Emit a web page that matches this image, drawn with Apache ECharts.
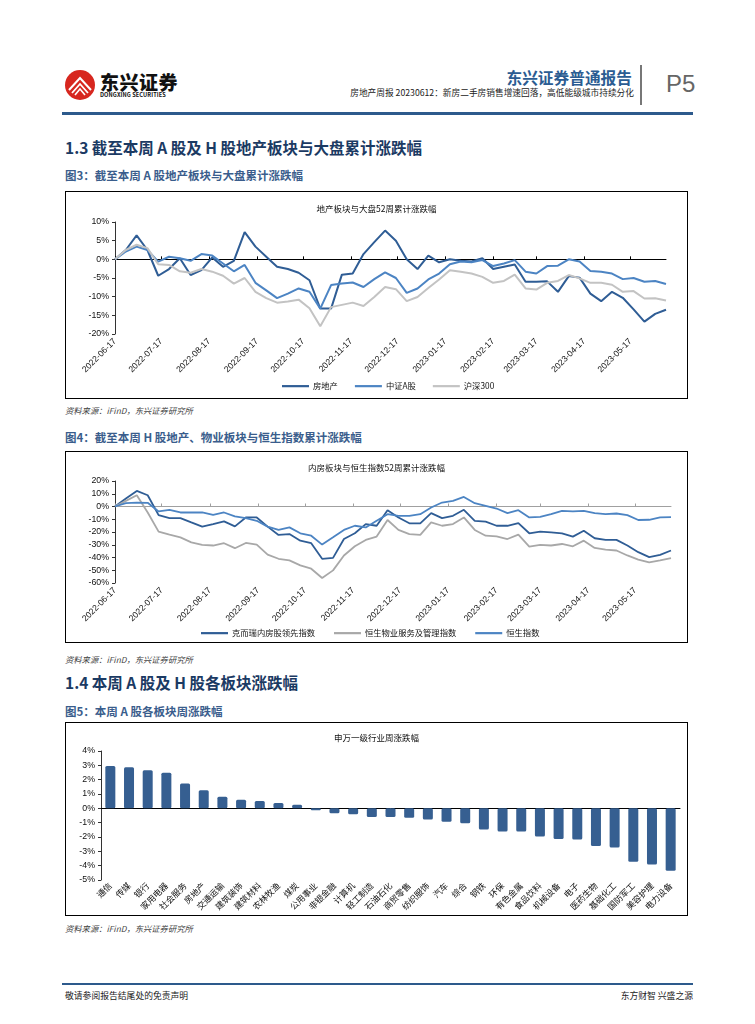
<!DOCTYPE html>
<html><head><meta charset="utf-8">
<script src="https://cdn.jsdelivr.net/npm/echarts@6/dist/echarts.min.js"></script>
<style>
html,body{margin:0;padding:0;background:#fff}
body{width:755px;height:1024px;position:relative;overflow:hidden;font-family:"Noto Sans CJK SC","Noto Sans",sans-serif}
.t{position:absolute;white-space:nowrap;line-height:1}
.box{position:absolute;border:1px solid #000;box-sizing:border-box}
.src{font-size:8.3px;color:#444;font-style:italic}
.h1{font-size:15.5px;font-weight:bold;color:#1b3a63}
.cap{font-size:11.5px;font-weight:bold;color:#3a5d8c}
</style></head><body>

<!-- header -->
<svg style="position:absolute;left:63px;top:68px" width="36" height="34" viewBox="0 0 36 34">
  <circle cx="17" cy="17" r="15" fill="#d7271f"/>
  <path d="M6 22 L17 10 L28 22" stroke="#fff" stroke-width="2" fill="none"/>
  <path d="M9 25 L17 16 L25 25" stroke="#fff" stroke-width="1.8" fill="none"/>
  <path d="M12 27 L17 21 L22 27" stroke="#fff" stroke-width="1.6" fill="none"/>
</svg>
<div class="t" style="left:100px;top:72px;font-size:19px;font-weight:900;color:#111;letter-spacing:0.5px">东兴证券</div>
<div class="t" style="left:100px;top:93px;font-size:5.6px;font-weight:bold;color:#111;letter-spacing:0.1px">DONGXING SECURITIES</div>
<div class="t" style="right:123px;top:70px;font-size:15.7px;font-weight:bold;color:#2b5c92">东兴证券普通报告</div>
<div class="t" style="right:121px;top:89px;font-size:8.7px;color:#222">房地产周报 20230612：新房二手房销售增速回落，高低能级城市持续分化</div>
<div style="position:absolute;left:640px;top:65px;width:1.5px;height:40px;background:#777"></div>
<div class="t" style="left:666px;top:72px;font-size:24px;color:#666;font-family:'Liberation Sans',Arial,sans-serif">P5</div>
<div style="position:absolute;left:62px;top:112px;width:631px;height:3px;background:#2d5a8c"></div>

<div class="t h1" style="left:65px;top:140px">1.3 截至本周 A 股及 H 股地产板块与大盘累计涨跌幅</div>
<div class="t cap" style="left:65px;top:170px">图3：截至本周 A 股地产板块与大盘累计涨跌幅</div>
<div class="box" id="c1" style="left:65px;top:191px;width:623px;height:208px"></div>
<div class="t src" style="left:65px;top:406px">资料来源：iFinD，东兴证券研究所</div>

<div class="t cap" style="left:65px;top:432px">图4：截至本周 H 股地产、物业板块与恒生指数累计涨跌幅</div>
<div class="box" id="c2" style="left:65px;top:451px;width:623px;height:192px"></div>
<div class="t src" style="left:65px;top:655px">资料来源：iFinD，东兴证券研究所</div>

<div class="t h1" style="left:65px;top:675px">1.4 本周 A 股及 H 股各板块涨跌幅</div>
<div class="t cap" style="left:65px;top:706px">图5：本周 A 股各板块周涨跌幅</div>
<div class="box" id="c3" style="left:65px;top:722px;width:623px;height:194px"></div>
<div class="t src" style="left:65px;top:924px">资料来源：iFinD，东兴证券研究所</div>

<div style="position:absolute;left:62px;top:983px;width:631px;height:2px;background:#2d5a8c"></div>
<div class="t" style="left:65px;top:992px;font-size:8.8px;color:#222">敬请参阅报告结尾处的免责声明</div>
<div class="t" style="right:62px;top:992px;font-size:8.8px;color:#222">东方财智 兴盛之源</div>

<script>
// ---------- data ----------
const weekDates = ['2022-06-17','2022-06-24','2022-07-01','2022-07-08','2022-07-15','2022-07-22','2022-07-29',
 '2022-08-05','2022-08-12','2022-08-19','2022-08-26','2022-09-02','2022-09-09','2022-09-16','2022-09-23','2022-09-30',
 '2022-10-07','2022-10-14','2022-10-21','2022-10-28','2022-11-04','2022-11-11','2022-11-18','2022-11-25',
 '2022-12-02','2022-12-09','2022-12-16','2022-12-23','2022-12-30','2023-01-06','2023-01-13','2023-01-20','2023-01-27',
 '2023-02-03','2023-02-10','2023-02-17','2023-02-24','2023-03-03','2023-03-10','2023-03-17','2023-03-24','2023-03-31',
 '2023-04-07','2023-04-14','2023-04-21','2023-04-28','2023-05-05','2023-05-12','2023-05-19','2023-05-26','2023-06-02','2023-06-09'];
const tickDates = ['2022-06-17','2022-07-17','2022-08-17','2022-09-17','2022-10-17','2022-11-17','2022-12-17',
 '2023-01-17','2023-02-17','2023-03-17','2023-04-17','2023-05-17'];

const c1Title = '地产板块与大盘52周累计涨跌幅';
const c1Names = ['房地产','中证A股','沪深300'];
const c1Realty = [0,2.5,6.4,2.5,-4.4,-2.6,0.3,-4.2,-2.9,0.5,-2.0,-0.4,7.3,3.4,0.7,-2.0,-2.6,-3.6,-5.6,-13.2,-13.2,-4.1,-3.8,1.4,4.6,7.7,
 5.0,0,-2.6,1.0,-0.8,0,-0.4,-0.6,0.3,-2.6,-2.0,-1.4,-6.0,-6.0,-5.9,-8.7,-4.5,-4.9,-9.2,-11.2,-8.7,-10.3,-13.4,-16.7,-14.6,-13.5];
const c1CSIA = [0,2.1,3.4,2.5,-0.6,0.7,0.3,-0.4,1.4,1.0,-1.1,-3.2,-1.5,-6.3,-8.3,-10.4,-9.2,-7.8,-8.7,-13.2,-6.9,-6.5,-6.2,-7.4,-5.3,-3.5,
 -5.0,-9.0,-7.8,-5.4,-3.8,-1.3,-0.6,-0.8,-0.2,-1.8,-1.1,-0.2,-3.3,-3.8,-1.8,-1.7,0,-0.6,-3.1,-3.3,-3.8,-5.3,-5.0,-6.0,-5.8,-6.6];
const c1HS300 = [0,2.5,3.9,3.0,-1.3,-1.5,-3.2,-3.6,-2.6,-3.3,-4.4,-6.5,-5.0,-8.7,-10.4,-11.6,-11.3,-10.8,-13.1,-17.9,-12.8,-12.2,-11.6,-12.5,-10.1,-7.4,
 -8.0,-11.2,-10.1,-7.7,-5.4,-2.9,-3.3,-3.8,-4.7,-6.3,-5.8,-4.1,-7.8,-8.1,-6.3,-5.8,-4.2,-5.1,-6.3,-6.3,-6.8,-8.7,-8.5,-10.5,-10.4,-11.0];

const c2Title = '内房板块与恒生指数52周累计涨跌幅';
const c2Names = ['克而瑞内房股领先指数','恒生物业服务及管理指数','恒生指数'];
const c2CRIC = [0,6.2,12.2,8.8,-6.8,-9.1,-9.1,-12.5,-15.8,-13.8,-11.7,-15.6,-8.6,-8.6,-15.8,-22.3,-21.6,-26.8,-28.8,-41.0,-40.3,-25.5,-21.0,-13.8,-15.1,-2.9,
 -8.6,-13.2,-13.2,-5.2,-9.1,-7.3,-2.6,-11.2,-11.9,-15.1,-15.1,-13.0,-21.0,-19.7,-20.3,-21.0,-23.6,-19.0,-24.9,-26.2,-26.2,-30.6,-35.8,-39.7,-37.9,-34.5];
const c2HSProp = [0,4.4,8.8,-4.7,-19.7,-22.1,-24.2,-28.1,-30.1,-30.6,-28.8,-32.7,-28.6,-29.9,-37.7,-41.0,-42.3,-46.2,-48.8,-56.1,-50.1,-38.4,-31.2,-26.2,-23.6,-10.6,
 -18.4,-21.6,-22.3,-12.5,-15.1,-13.8,-8.6,-18.4,-22.9,-23.4,-25.5,-22.1,-31.4,-30.1,-30.6,-29.4,-31.2,-26.8,-32.5,-33.8,-34.5,-38.4,-41.6,-43.9,-42.3,-40.5];
const c2HSI = [0,2.6,3.1,2.9,-3.9,-2.6,-4.7,-4.7,-4.7,-6.5,-4.7,-7.8,-9.1,-11.2,-15.8,-18.4,-16.4,-21.0,-22.9,-29.9,-24.2,-18.4,-15.1,-16.4,-11.2,-6.0,
 -7.3,-7.3,-6.0,-0.8,3.1,4.4,7.5,2.6,0.5,-1.6,-5.2,-2.9,-8.6,-8.1,-6.0,-3.4,-3.9,-3.4,-5.2,-6.0,-5.5,-6.8,-10.6,-10.4,-8.6,-8.3];

const c3Title = '申万一级行业周涨跌幅';
const c3Sectors = ['通信','传媒','银行','家用电器','社会服务','房地产','交通运输','建筑装饰','建筑材料','农林牧渔','煤炭',
 '公用事业','非银金融','计算机','轻工制造','石油石化','商贸零售','纺织服饰','汽车','综合','钢铁','环保','有色金属',
 '食品饮料','机械设备','电子','医药生物','基础化工','国防军工','美容护理','电力设备'];
const c3Values = [2.95,2.86,2.65,2.49,1.73,1.27,0.81,0.6,0.51,0.37,0.25,-0.14,-0.35,-0.41,-0.6,-0.6,-0.65,-0.78,-0.94,-1.04,
 -1.47,-1.61,-1.61,-1.96,-2.14,-2.17,-2.63,-2.74,-3.73,-3.92,-4.35];

// ---------- helpers ----------
const DAY = 86400000, t0 = Date.parse(weekDates[0]);
const dayOf = s => Math.round((Date.parse(s) - t0) / DAY);
const xs = weekDates.map(dayOf);
const tickDays = tickDates.map(dayOf);
const xMax = xs[xs.length - 1];
const pairs = vals => vals.map((v, i) => [xs[i], v]);
const FONT = '"Noto Sans CJK SC","Noto Sans",sans-serif';
const LAT = '"Liberation Sans",Arial,sans-serif';

function lineOption(cfg) {
  return {
    animation: false,
    title: { text: cfg.title, left: 'center', top: cfg.titleTop,
      textStyle: { fontSize: 8.5, fontWeight: 'normal', color: '#111', fontFamily: FONT } },
    legend: { left: cfg.legendLeft, top: cfg.legendTop, icon: 'rect', itemWidth: 27, itemHeight: 2.2,
      itemGap: cfg.legendGap, textStyle: { fontSize: 8.3, color: '#111', fontFamily: FONT, padding: [0, 0, 0, -1] },
      data: cfg.names },
    grid: cfg.grid,
    xAxis: [
      { type: 'value', min: 0, max: xMax, position: 'bottom',
        axisLine: { show: false, onZero: false }, axisTick: { show: false }, splitLine: { show: false },
        axisLabel: { customValues: tickDays, rotate: 45, fontSize: 8.6, color: '#111', fontFamily: LAT, margin: 6,
          formatter: v => tickDates[tickDays.indexOf(Math.round(v))] || '' } },
      { type: 'value', min: 0, max: xMax, position: 'top',
        axisLine: { show: true, onZero: true, lineStyle: { color: cfg.zeroColor, width: 1 } },
        axisTick: { show: true, customValues: tickDays, inside: false, length: 3, lineStyle: { color: cfg.zeroColor } },
        axisLabel: { show: false }, splitLine: { show: false } }
    ],
    yAxis: { type: 'value', min: cfg.yMin, max: cfg.yMax, interval: cfg.yStep,
      axisLine: { show: true, lineStyle: { color: '#333', width: 1 } },
      axisTick: { show: true, length: 3, lineStyle: { color: '#333' } },
      splitLine: { show: false },
      axisLabel: { formatter: v => v + '%', fontSize: 8.8, color: '#111', fontFamily: LAT, margin: 6 } },
    series: cfg.series.map((s, k) => ({
      name: cfg.names[k], type: 'line', xAxisIndex: 0, data: pairs(s), showSymbol: false,
      lineStyle: { color: cfg.colors[k], width: cfg.lineWidth }, itemStyle: { color: cfg.colors[k] }
    }))
  };
}

const ch1 = echarts.init(document.getElementById('c1'), null, { renderer: 'canvas' });
ch1.setOption(lineOption({
  title: c1Title, titleTop: 8, names: c1Names, series: [c1Realty, c1CSIA, c1HS300],
  colors: ['#2f5d95', '#4c84c3', '#c3c3c3'], lineWidth: 2,
  legendLeft: 211, legendTop: 185, legendGap: 17,
  grid: { left: 49, right: 21, top: 30, bottom: 64 },
  zeroColor: '#000', yMin: -20, yMax: 10, yStep: 5
}));

const ch2 = echarts.init(document.getElementById('c2'), null, { renderer: 'canvas' });
ch2.setOption(lineOption({
  title: c2Title, titleTop: 7, names: c2Names, series: [c2CRIC, c2HSProp, c2HSI],
  colors: ['#2f5d95', '#a8a8a8', '#4c84c3'], lineWidth: 1.8,
  legendLeft: 130, legendTop: 172, legendGap: 19,
  grid: { left: 49, right: 16, top: 29, bottom: 59 },
  zeroColor: '#a0a0a0', yMin: -60, yMax: 20, yStep: 10
}));

const ch3 = echarts.init(document.getElementById('c3'), null, { renderer: 'canvas' });
ch3.setOption({
  animation: false,
  title: { text: c3Title, left: 'center', top: 6,
    textStyle: { fontSize: 8.5, fontWeight: 'normal', color: '#111', fontFamily: FONT } },
  grid: { left: 35, right: 7, top: 28, bottom: 35 },
  xAxis: [
    { type: 'category', data: c3Sectors, position: 'bottom',
      axisLine: { show: false, onZero: false }, axisTick: { show: false },
      axisLabel: { interval: 0, rotate: 45, fontSize: 8.6, color: '#111', fontFamily: FONT, margin: 4 } },
    { type: 'category', data: c3Sectors, position: 'top',
      axisLine: { show: true, onZero: true, lineStyle: { color: '#000', width: 1 } },
      axisTick: { show: false }, axisLabel: { show: false } }
  ],
  yAxis: { type: 'value', min: -5, max: 4, interval: 1,
    axisLine: { show: true, lineStyle: { color: '#333' } },
    axisTick: { show: true, length: 3, lineStyle: { color: '#333' } },
    splitLine: { show: false },
    axisLabel: { formatter: v => v + '%', fontSize: 8.8, color: '#111', fontFamily: LAT, margin: 6 } },
  series: [{ type: 'bar', data: c3Values, xAxisIndex: 0, barWidth: 10,
    itemStyle: { color: '#365f91', borderRadius: 1.5 } }]
});
</script>
</body></html>
